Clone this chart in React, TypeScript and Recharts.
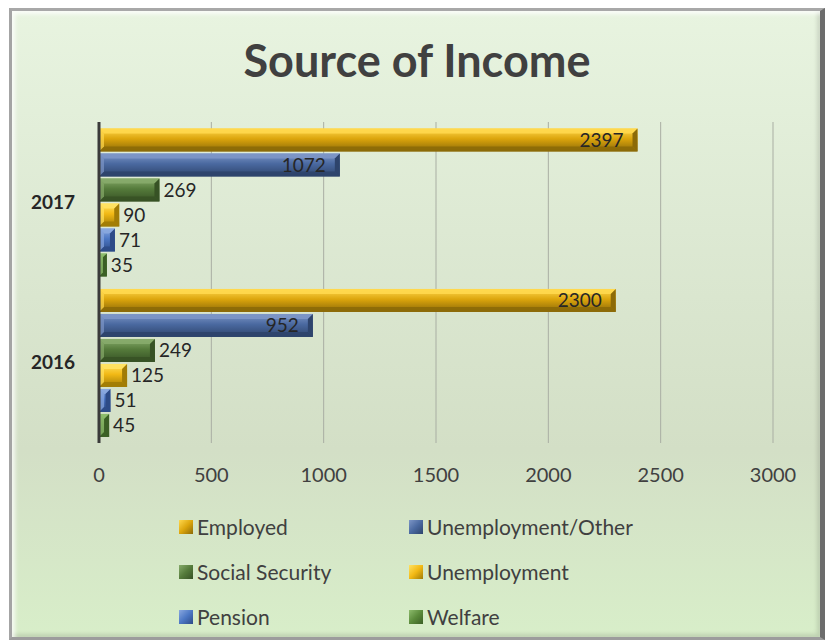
import React from "react";
import {
  Bar,
  BarChart,
  CartesianGrid,
  LabelList,
  Legend,
  XAxis,
  YAxis,
} from "recharts";

const years = ["2017", "2016"];
const employed = [2397, 2300];
const unemploymentOther = [1072, 952];
const socialSecurity = [269, 249];
const unemployment = [90, 125];
const pension = [71, 51];
const welfare = [35, 45];
const xTicks = [0, 500, 1000, 1500, 2000, 2500, 3000];

const FONT = "Lato, 'Open Sans', sans-serif";

const data = years.map((year, i) => ({
  year,
  employed: employed[i],
  unemploymentOther: unemploymentOther[i],
  socialSecurity: socialSecurity[i],
  unemployment: unemployment[i],
  pension: pension[i],
  welfare: welfare[i],
}));

interface ISeries {
  key: string;
  name: string;
  face: string;
  light: string;
  dark: string;
  inside: boolean;
}

const series: ISeries[] = [
  { key: "employed", name: "Employed", face: "#dca50c", light: "#ffd84e", dark: "#8c6a08", inside: true },
  { key: "unemploymentOther", name: "Unemployment/Other", face: "#4a69a0", light: "#7d96c6", dark: "#2e446c", inside: true },
  { key: "socialSecurity", name: "Social Security", face: "#557b3b", light: "#87ab6b", dark: "#375225", inside: false },
  { key: "unemployment", name: "Unemployment", face: "#f2b915", light: "#ffe263", dark: "#a17c06", inside: false },
  { key: "pension", name: "Pension", face: "#4c77c4", light: "#8aa8df", dark: "#2d4b87", inside: false },
  { key: "welfare", name: "Welfare", face: "#5b8b3b", light: "#8dbb6c", dark: "#3b5f25", inside: false },
];

// bevelled bar: light top/left edge, dark bottom/right edge, shaded face
function bevelShape(s: ISeries) {
  return (props: any) => {
    const { x, y, width, height } = props;
    if (!width || width <= 0) return null;
    const b = Math.max(1, Math.min(5, width / 2, height / 3));
    const x2 = x + width;
    const y2 = y + height;
    const gid = `face-${s.key}`;
    return (
      <g>
        <defs>
          <linearGradient id={gid} x1="0" y1="0" x2="0" y2="1">
            <stop offset="0" stopColor={s.light} />
            <stop offset="0.45" stopColor={s.face} />
            <stop offset="1" stopColor={s.dark} />
          </linearGradient>
        </defs>
        <rect x={x} y={y} width={width} height={height} fill={`url(#${gid})`} />
        <polygon points={`${x},${y} ${x2},${y} ${x2 - b},${y + b} ${x + b},${y + b}`} fill={s.light} opacity={0.9} />
        <polygon points={`${x},${y2} ${x2},${y2} ${x2 - b},${y2 - b} ${x + b},${y2 - b}`} fill={s.dark} opacity={0.9} />
        <polygon points={`${x2},${y} ${x2},${y2} ${x2 - b},${y2 - b} ${x2 - b},${y + b}`} fill={s.dark} />
        <polygon points={`${x},${y} ${x},${y2} ${x + b},${y2 - b} ${x + b},${y + b}`} fill={s.light} opacity={0.7} />
      </g>
    );
  };
}

// two-column legend, in series order
function LegendGrid() {
  return (
    <div
      style={{
        display: "grid",
        gridTemplateColumns: "230px 240px",
        rowGap: 20,
        fontFamily: FONT,
        fontSize: 21,
        color: "#404040",
      }}
    >
      {series.map((s) => (
        <div key={s.key} style={{ display: "flex", alignItems: "center", height: 25 }}>
          <span
            style={{
              display: "inline-block",
              width: 14,
              height: 14,
              marginRight: 4,
              background: `linear-gradient(135deg, ${s.light}, ${s.face} 50%, ${s.dark})`,
            }}
          />
          {s.name}
        </div>
      ))}
    </div>
  );
}

export default function App() {
  return (
    <div style={{ position: "absolute", left: 0, top: 0, width: 830, height: 644, background: "#fff" }}>
      <div
        style={{
          position: "absolute",
          left: 9,
          top: 8,
          width: 808,
          height: 626,
          borderTop: "3px solid #a8a8a8",
          borderLeft: "3px solid #a4a4a4",
          borderBottom: "3px solid #9c9c9c",
          borderRight: "5px solid #6c6c6c",
          background: "linear-gradient(180deg, #e8f4e0 0%, #dde9d3 35%, #d3dfc6 70%, #d8eec9 100%)",
          boxShadow: "inset 3px 3px 4px rgba(255,255,255,0.8), inset -3px -3px 4px rgba(0,0,0,0.12)",
        }}
      />
      <div
        style={{
          position: "absolute",
          left: 12,
          width: 810,
          top: 33,
          textAlign: "center",
          fontFamily: FONT,
          fontWeight: 700,
          fontSize: 45,
          color: "#404040",
        }}
      >
        Source of Income
      </div>
      <div style={{ position: "absolute", left: 0, top: 0 }}>
        <BarChart
          width={830}
          height={644}
          data={data}
          layout="vertical"
          margin={{ top: 122, right: 57, bottom: 171, left: 10 }}
          barCategoryGap="4%"
          barGap={2}
        >
          <CartesianGrid horizontal={false} stroke="#a9aea3" strokeWidth={1} />
          <XAxis
            type="number"
            domain={[0, 3000]}
            ticks={xTicks}
            interval={0}
            axisLine={false}
            tickLine={false}
            tickMargin={19}
            tick={{ fill: "#404040", fontSize: 20, fontFamily: FONT }}
          />
          <YAxis
            type="category"
            dataKey="year"
            width={89}
            axisLine={{ stroke: "#3a3a3a", strokeWidth: 3 }}
            tickLine={false}
            tickMargin={18}
            tick={{ fill: "#262626", fontSize: 19, fontWeight: 700, fontFamily: FONT }}
          />
          <Legend
            layout="horizontal"
            verticalAlign="middle"
            align="center"
            content={<LegendGrid />}
            wrapperStyle={{ top: 514, left: 179, width: 480 }}
          />
          {series.map((s) => (
            <Bar
              key={s.key}
              dataKey={s.key}
              name={s.name}
              fill={s.face}
              shape={bevelShape(s)}
              isAnimationActive={false}
            >
              <LabelList
                dataKey={s.key}
                position={s.inside ? "insideRight" : "right"}
                offset={s.inside ? 14 : 4}
                fill="#262626"
                fontSize={19}
                fontFamily={FONT}
              />
            </Bar>
          ))}
        </BarChart>
      </div>
    </div>
  );
}
